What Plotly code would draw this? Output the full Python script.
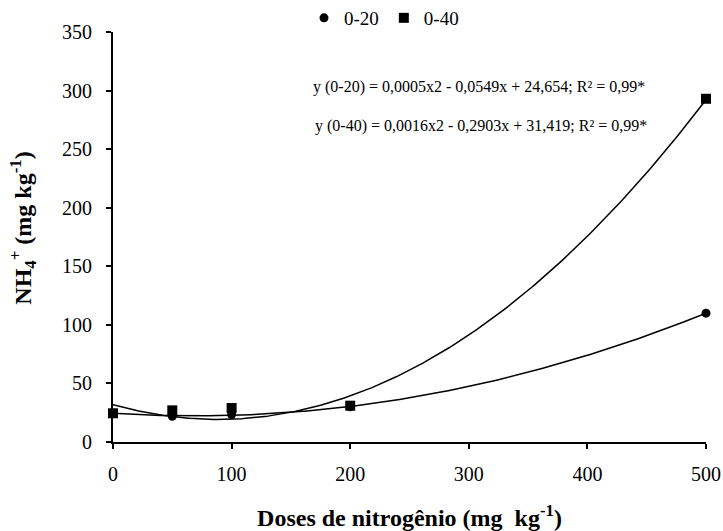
import numpy as np
import plotly.graph_objects as go

doses = [0, 50, 100, 200, 500]
nh4_0_20 = [24.5, 22, 23.5, 30, 110]
nh4_0_40 = [24.5, 27, 29, 31, 293]
x_ticks = [0, 100, 200, 300, 400, 500]
y_ticks = [0, 50, 100, 150, 200, 250, 300, 350]
eq_0_20 = "y (0-20) = 0,0005x2 - 0,0549x + 24,654; R² = 0,99*"
eq_0_40 = "y (0-40) = 0,0016x2 - 0,2903x + 31,419; R² = 0,99*"

font = "Liberation Serif, Times New Roman, serif"
xs = np.linspace(0, 500, 301)

fig = go.Figure()
for vals in (nh4_0_20, nh4_0_40):
    c = np.polyfit(doses, vals, 2)
    fig.add_trace(go.Scatter(x=xs, y=np.polyval(c, xs), mode="lines",
                             line=dict(color="black", width=1.5),
                             showlegend=False, hoverinfo="skip"))

fig.add_trace(go.Scatter(x=doses, y=nh4_0_20, mode="markers", name="0-20",
                         marker=dict(symbol="circle", size=9, color="black"),
                         cliponaxis=False))
fig.add_trace(go.Scatter(x=doses, y=nh4_0_40, mode="markers", name="0-40",
                         marker=dict(symbol="square", size=10, color="black"),
                         cliponaxis=False))

fig.add_annotation(x=0.617, y=303, xref="paper", yref="y", text=eq_0_20, showarrow=False,
                   font=dict(family=font, size=16, color="black"))
fig.add_annotation(x=0.621, y=270, xref="paper", yref="y", text=eq_0_40, showarrow=False,
                   font=dict(family=font, size=16, color="black"))

fig.update_layout(
    width=723, height=531,
    margin=dict(l=113, r=17, t=32, b=89, autoexpand=False),
    plot_bgcolor="white", paper_bgcolor="white",
    font=dict(family=font, size=20, color="black"),
    legend=dict(orientation="h", x=384 / 723, xanchor="center", xref="container",
                y=1 - 18 / 531, yanchor="middle", yref="container",
                font=dict(family=font, size=19), itemwidth=30, tracegroupgap=0,
                bgcolor="rgba(0,0,0,0)"),
    xaxis=dict(range=[0, 500], tickvals=x_ticks, showgrid=False, zeroline=False,
               showline=True, linecolor="black", linewidth=2, ticks="outside",
               ticklen=5, tickwidth=2, tickcolor="black", automargin=False,
               ticklabelstandoff=8,
               tickfont=dict(family=font, size=20),
               title=dict(text="<b>Doses de nitrogênio (mg  kg<sup>-1</sup>)</b>",
                          font=dict(family=font, size=24), standoff=28)),
    yaxis=dict(range=[0, 350], tickvals=y_ticks, showgrid=False, zeroline=False,
               showline=True, linecolor="black", linewidth=2, ticks="outside",
               ticklen=5, tickwidth=2, tickcolor="black", automargin=False,
               ticklabelstandoff=10,
               tickfont=dict(family=font, size=20),
               title=dict(text="&nbsp;&nbsp;&nbsp;<b>NH<sub>4</sub><sup>+</sup> (mg kg<sup>-1</sup>)</b>",
                          font=dict(family=font, size=24), standoff=24)),
)

fig.write_html("out.html", config={"displayModeBar": False},
               post_script="document.body.style.margin='0';")
